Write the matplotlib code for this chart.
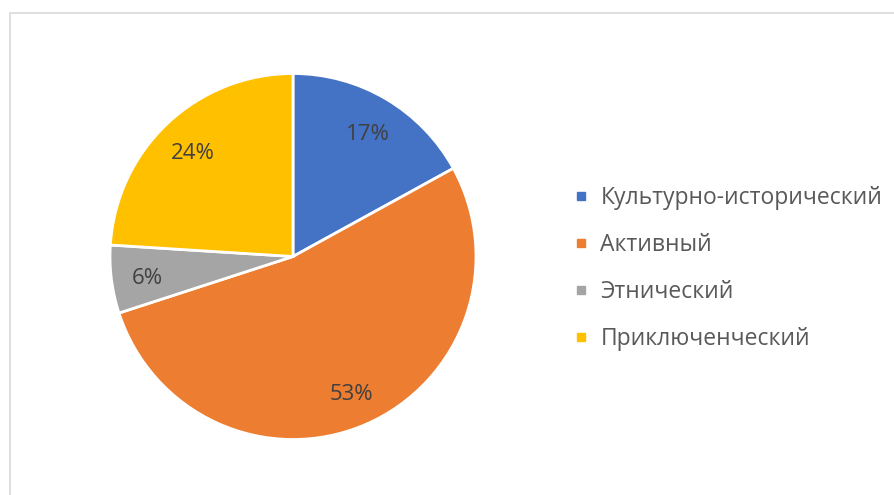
import matplotlib.pyplot as plt
import matplotlib.transforms as mtransforms
from matplotlib.lines import Line2D
from matplotlib.patches import Rectangle

plt.rcParams['font.family'] = ['Open Sans', 'DejaVu Sans']

# Data
categories = ["Культурно-исторический", "Активный", "Этнический", "Приключенческий"]
shares = [17, 53, 6, 24]
colors = ["#4472C4", "#ED7D31", "#A5A5A5", "#FFC000"]

W, H = 895, 495
fig = plt.figure(figsize=(W / 100, H / 100), dpi=100)

# light frame of the chart area
fig.patches.append(Rectangle((10.5 / W, -0.1), 2, (H - 12.5) / H + 0.1,
                             transform=fig.transFigure, fill=False,
                             edgecolor="#d9d9d9", linewidth=1.2))

# pie axes: center (293, 256.5), radius 183 px
cx, cy, r = 293, 256.5, 183
ax = fig.add_axes([(cx - r) / W, (H - cy - r) / H, 2 * r / W, 2 * r / H])
wedges, texts, autotexts = ax.pie(
    shares, colors=colors, startangle=90, counterclock=False,
    autopct='%1.0f%%', pctdistance=0.8,
    wedgeprops=dict(edgecolor="white", linewidth=2),
    textprops=dict(color="#404040", fontsize=16))
# nudge labels down a little like Excel does
shift = mtransforms.ScaledTranslation(0, -4 / 100, fig.dpi_scale_trans)
for t in autotexts:
    t.set_transform(t.get_transform() + shift)
ax.set_xlim(-1, 1)
ax.set_ylim(-1, 1)
ax.set_aspect('equal')
ax.axis('off')

handles = [Line2D([], [], marker='s', linestyle='none', markersize=5.5,
                  markerfacecolor=c, markeredgecolor=c) for c in colors]
fig.legend(handles, categories, loc='center left',
           bbox_to_anchor=(574 / W, (H - 268.5) / H), frameon=False,
           fontsize=16.5, labelcolor="#595959", handlelength=0.6,
           handletextpad=0.55, labelspacing=0.99, borderpad=0,
           borderaxespad=0)

fig.savefig("out.png", dpi=100)
